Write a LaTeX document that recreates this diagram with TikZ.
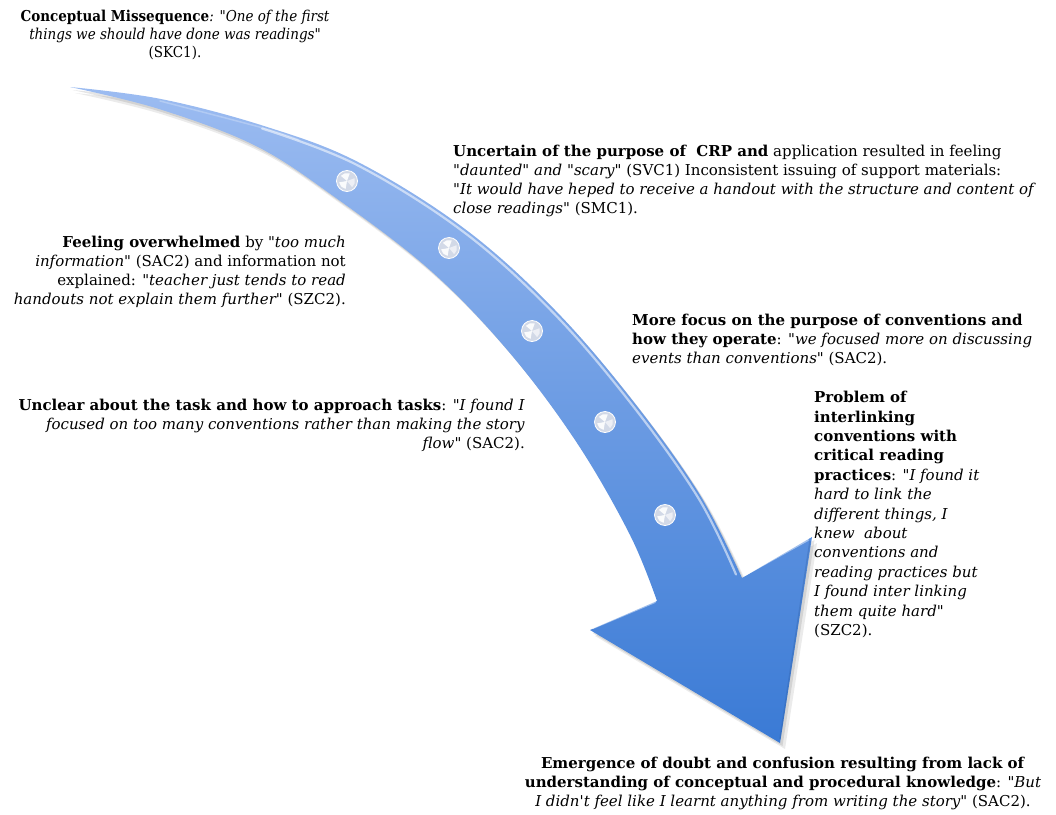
\documentclass[tikz,border=0pt]{standalone}
\usepackage{fontspec}
\setmainfont{DejaVu Serif}
\newfontfamily\narrowserif{DejaVu Serif Condensed}
\newcommand\dqt{\textquotedbl}
\definecolor{arrowtop}{RGB}{156,188,241}
\definecolor{arrowmid}{RGB}{114,157,229}
\definecolor{arrowbot}{RGB}{58,122,213}
\definecolor{dotgray}{RGB}{210,217,231}
% outline of the curved arrow: outer edge, head, inner edge back to the tail
\newcommand\arrowoutline{plot[smooth,tension=.6] coordinates {(70,87) (161,99) (264,126) (358,162) (465,229) (555,310) (633,401) (700,495) (742,578)} -- (812,537) -- (780,743) -- (590,630) -- (657,601) -- plot[smooth,tension=.6] coordinates {(657,601) (630,535) (577,443) (509,352) (431,271) (336,198) (256,146) (159,109) (70,87)} -- cycle}
\begin{document}
\begin{tikzpicture}[x=1pt,y=-1pt,
  txt/.style={inner sep=0pt, font=\fontsize{15}{19}\selectfont},
  dot/.style={circle, inner sep=0pt, minimum size=21pt, fill=dotgray,
    draw=white, line width=.8pt,
    path picture={
      \fill[white,opacity=.9] (path picture bounding box.center) -- +(100:8) arc[start angle=100,end angle=170,radius=8] -- cycle;
      \fill[white,opacity=.9] (path picture bounding box.center) -- +(220:8) arc[start angle=220,end angle=290,radius=8] -- cycle;
      \fill[white,opacity=.6] (path picture bounding box.center) -- +(340:8) arc[start angle=340,end angle=410,radius=8] -- cycle;
    }},
]
\useasboundingbox (0,0) rectangle (1056,814);

% soft drop shadow
\fill[black,opacity=.08,shift={(5,6)}] \arrowoutline;
\fill[black,opacity=.10,shift={(2.5,3)}] \arrowoutline;
% arrow body
\shade[top color=arrowtop, middle color=arrowmid, bottom color=arrowbot] \arrowoutline;
% bright rim along the outer edge and on the head
\draw[white,opacity=.25,line width=1.5,line cap=round,shift={(-1,2)}]
  plot[smooth,tension=.6] coordinates {(161,99) (264,126) (300,138)};
\draw[white,opacity=.55,line width=2.2,line cap=round,shift={(-2,2.5)}]
  plot[smooth,tension=.6] coordinates {(264,126) (358,162) (465,229) (555,310) (633,401) (700,495) (738,572)};
\draw[white,opacity=.45,line width=2,line cap=round] (593,628) -- (655,602);
\draw[white,opacity=.45,line width=2,line cap=round] (745,575) -- (808,540);
\draw[arrowbot!70!black,opacity=.25,line width=1.5] (810,541) -- (780,739);

% beads along the arrow
\node[dot] (d1) at (347,181) {};
\node[dot] (d2) at (449,248) {};
\node[dot] (d3) at (532,331) {};
\node[dot] (d4) at (605,422) {};
\node[dot] (d5) at (665,515) {};

% quotations
\node[txt,align=center,anchor=north,font=\narrowserif\fontsize{15}{18}\selectfont] (skc) at (175,10) {\textbf{Conceptual Missequence}\textit{: \dqt One of the first}\\ \textit{things we should have done was readings\dqt}\\ (SKC1).};

\node[txt,align=left,anchor=north west] (svc) at (453,145) {\textbf{Uncertain of the purpose of\ \ CRP and} application resulted in feeling\\ \textit{\dqt daunted\dqt\ and \dqt scary\dqt} (SVC1) Inconsistent issuing of support materials:\\ \textit{\dqt It would have heped to receive a handout with the structure and content of}\\ \textit{close readings\dqt} (SMC1).};

\node[txt,align=right,anchor=north east] (sac) at (346,236) {\textbf{Feeling overwhelmed} by \textit{\dqt too much}\\ \textit{information\dqt} (SAC2) and information not\\ explained: \textit{\dqt teacher just tends to read}\\ \textit{handouts not explain them further\dqt} (SZC2).};

\node[txt,align=left,anchor=north west] (conv) at (632,314) {\textbf{More focus on the purpose of conventions and}\\ \textbf{how they operate}: \textit{\dqt we focused more on discussing}\\ \textit{events than conventions\dqt} (SAC2).};

\node[txt,align=right,anchor=north east] (task) at (525,399) {\textbf{Unclear about the task and how to approach tasks}: \textit{\dqt I found I}\\ \textit{focused on too many conventions rather than making the story}\\ \textit{flow\dqt} (SAC2).};

\node[txt,align=left,anchor=north west,font=\fontsize{15}{19.4}\selectfont] (link) at (814,391) {\textbf{Problem of}\\ \textbf{interlinking}\\ \textbf{conventions with}\\ \textbf{critical reading}\\ \textbf{practices}: \textit{\dqt I found it}\\ \textit{hard to link the}\\ \textit{different things, I}\\ \textit{knew\ \ about}\\ \textit{conventions and}\\ \textit{reading practices but}\\ \textit{I found inter linking}\\ \textit{them quite hard\dqt}\\ (SZC2).};

\node[txt,align=center,anchor=north] (doubt) at (783,757) {\textbf{Emergence of doubt and confusion resulting from lack of}\\ \textbf{understanding of conceptual and procedural knowledge}: \textit{\dqt But}\\ \textit{I didn\textquotesingle t feel like I learnt anything from writing the story\dqt} (SAC2).};
\end{tikzpicture}
\end{document}
